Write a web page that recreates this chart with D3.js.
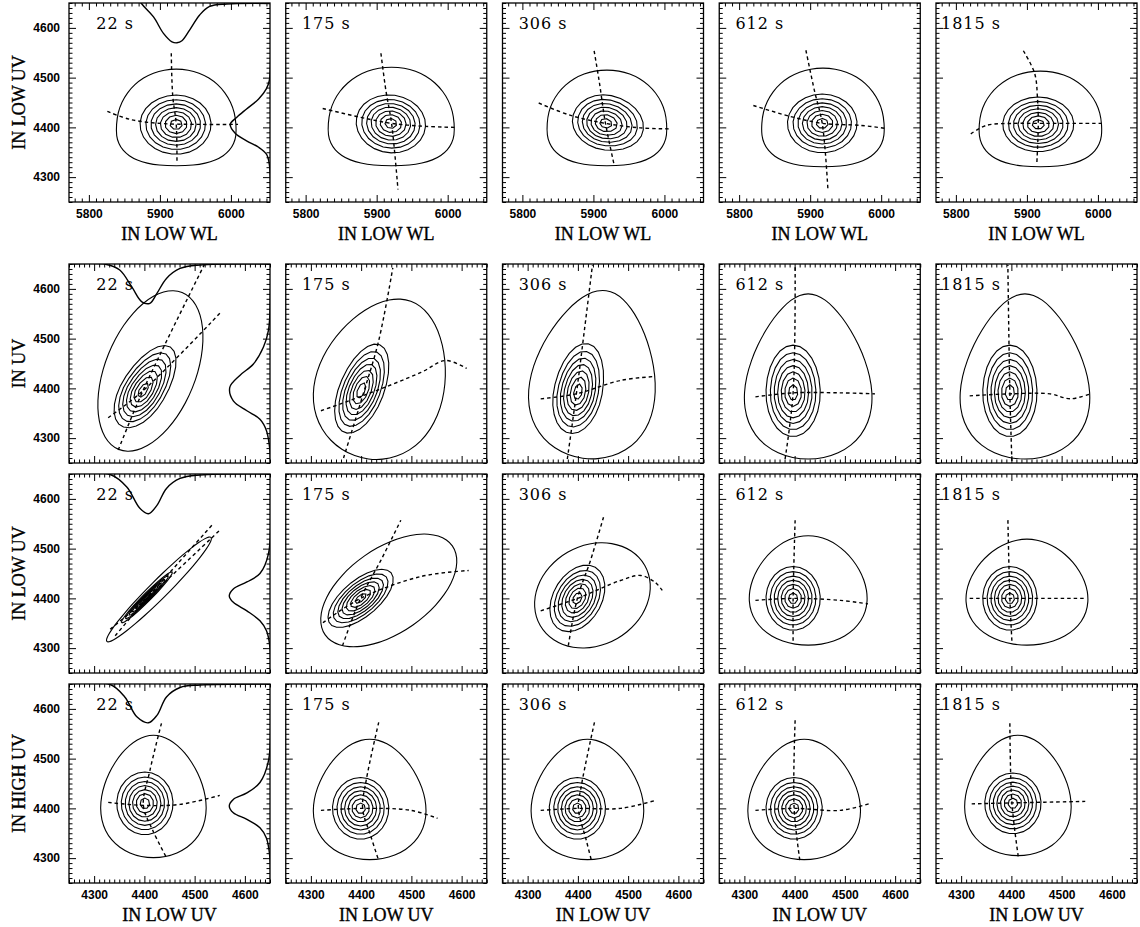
<!DOCTYPE html>
<html>
<head>
<meta charset="utf-8">
<script src="https://cdn.jsdelivr.net/npm/d3@7"></script>
<style>
  body { margin: 0; background: #fff; }
  svg { display: block; }
  .tick text { font-family: "Liberation Sans", Arial, sans-serif; font-weight: bold; font-size: 12px; fill: #000; }
  .tick line { stroke: #000; stroke-width: 1; }
  .title { font-family: "Liberation Serif", "Times New Roman", serif; font-size: 18px; fill: #000; stroke: #000; stroke-width: 0.35; }
  .tlabel { font-family: "DejaVu Serif", serif; font-size: 16px; letter-spacing: 1px; fill: #000; }
</style>
</head>
<body>
<div id="viz"></div>
<script>
// ---- data ----
const times = ["22 s", "175 s", "306 s", "612 s", "1815 s"];
const yTitles = ["IN LOW UV", "IN UV", "IN LOW UV", "IN HIGH UV"];
const xTitles = ["IN LOW WL", null, null, "IN LOW UV"];
const xDomains = [[5772, 6055], [4250, 4650], [4250, 4650], [4250, 4650]];
const yDomain = [4250, 4650];
const xTickVals = [[5800, 5900, 6000], [4300, 4400, 4500, 4600], [4300, 4400, 4500, 4600], [4300, 4400, 4500, 4600]];
const yTickVals = [4300, 4400, 4500, 4600];
const levelFractions = [1, 0.84, 0.70, 0.57, 0.44, 0.31, 0.17];

// inner contour family: [cx, cy, left, right, top, bottom, rot]
const innerCore = [
  [[5923, 4406, 51, 49, 59, 60, 0], [5920, 4408, 49, 49, 57, 59, -8], [5917, 4408, 47, 54, 57, 53, -12], [5917, 4408, 49, 49, 59, 59, 0], [5916, 4406, 50, 50, 55, 55, 0]],
  [[4397, 4395, 44, 44, 104, 83, -32], [4400, 4395, 44, 44, 100, 90, -22], [4400, 4392, 48, 48, 100, 84, -12], [4397, 4391, 54, 54, 96, 88, 0], [4397, 4391, 54, 54, 96, 88, 0]],
  [[4405, 4402, 8, 8, 72, 72, -45], [4399, 4400, 36, 36, 80, 80, -50], [4399, 4400, 48, 48, 72, 72, -30], [4397, 4400, 54, 54, 64, 64, 0], [4397, 4400, 54, 54, 64, 64, 0]],
  [[4401, 4410, 56, 56, 63, 63, 0], [4399, 4400, 56, 56, 62, 62, 0], [4399, 4400, 56, 56, 62, 62, 0], [4399, 4400, 56, 56, 62, 62, 0], [4403, 4410, 56, 56, 61, 61, 0]]
];

// outer contour: [cx, cy, left, right, top, bottom, rot, taper, topPower, bottomPower]
const outerContour = [
  [[5923, 4406, 84, 84, 111, 83, 0, 0.05, 2.1, 2.5], [5921, 4408, 89, 88, 113, 85, 0, 0.05, 2.1, 2.5], [5919, 4408, 84, 84, 107, 85, 0, 0.05, 2.1, 2.5], [5918, 4408, 86, 86, 111, 87, 0, 0.05, 2.1, 2.5], [5919, 4406, 86, 86, 107, 85, 0, 0.05, 2.1, 2.5]],
  [[4412, 4435, 90, 90, 170, 170, -22, 0], [4443, 4420, 126, 126, 165, 165, -20, 0.15], [4433, 4428, 122, 122, 170, 170, -8, 0.25], [4427, 4424, 122, 122, 166, 166, 0, 0.3], [4427, 4424, 124, 124, 166, 166, 0, 0.3]],
  [[4429, 4418, 18, 18, 148, 148, -45, 0], [4455, 4416, 84, 84, 156, 156, -55, 0], [4429, 4406, 120, 120, 100, 100, 30, 0], [4427, 4416, 116, 116, 110, 110, 0, 0.15], [4431, 4414, 120, 120, 105, 108, 0, 0.15]],
  [[4418, 4424, 103, 103, 123, 123, 0, 0.2], [4417, 4418, 110, 110, 121, 121, 0, 0.2], [4419, 4418, 110, 110, 121, 121, 0, 0.2], [4419, 4418, 110, 110, 121, 121, 0, 0.2], [4413, 4426, 104, 104, 121, 121, 0, 0.2]]
];

// dashed ridge lines (near-vertical A, near-horizontal B)
const ridgeA = [
  [[[5916, 4549], [5918, 4464], [5923, 4406], [5924, 4327]], [[5906, 4549], [5913, 4474], [5921, 4408], [5930, 4275]], [[5901, 4554], [5908, 4494], [5917, 4408], [5929, 4326]], [[5894, 4555], [5906, 4474], [5917, 4408], [5925, 4275]], [[5895, 4554], [5911, 4508], [5915, 4454], [5916, 4406], [5914, 4329]]],
  [[[4348, 4276], [4397, 4395], [4519, 4648]], [[4365, 4260], [4403, 4385], [4435, 4496], [4463, 4642]], [[4379, 4258], [4397, 4389], [4413, 4517], [4429, 4648]], [[4381, 4258], [4397, 4391], [4401, 4648]], [[4401, 4254], [4397, 4391], [4393, 4648]]],
  [[[4342, 4325], [4407, 4402], [4537, 4550]], [[4363, 4305], [4399, 4400], [4439, 4476], [4479, 4557]], [[4381, 4305], [4399, 4400], [4425, 4476], [4451, 4563]], [[4397, 4315], [4397, 4400], [4401, 4557]], [[4401, 4315], [4397, 4400], [4393, 4561]]],
  [[[4434, 4571], [4411, 4476], [4398, 4406], [4417, 4355], [4444, 4301]], [[4435, 4573], [4410, 4456], [4403, 4400], [4419, 4345], [4435, 4295]], [[4433, 4573], [4407, 4446], [4401, 4400], [4417, 4335], [4427, 4295]], [[4401, 4577], [4399, 4400], [4411, 4291]], [[4397, 4571], [4401, 4412], [4414, 4301]]]
];
const ridgeB = [
  [[[5826, 4432], [5858, 4416], [5900, 4408], [5956, 4406], [6010, 4406]], [[5824, 4438], [5878, 4420], [5921, 4408], [5969, 4402], [6011, 4400]], [[5823, 4449], [5868, 4424], [5917, 4408], [5966, 4399], [6006, 4397]], [[5820, 4444], [5872, 4422], [5917, 4408], [5971, 4404], [6006, 4398]], [[5821, 4387], [5843, 4404], [5881, 4408], [5916, 4408], [6005, 4408]]],
  [[[4328, 4341], [4397, 4395], [4554, 4555]], [[4320, 4355], [4403, 4385], [4519, 4432], [4568, 4456], [4610, 4440]], [[4326, 4379], [4397, 4389], [4485, 4416], [4554, 4424]], [[4322, 4383], [4397, 4391], [4491, 4391], [4560, 4389]], [[4317, 4385], [4397, 4389], [4477, 4389], [4517, 4379], [4557, 4389]]],
  [[[4332, 4338], [4407, 4402], [4550, 4537]], [[4324, 4351], [4399, 4400], [4519, 4444], [4614, 4456]], [[4326, 4375], [4399, 4400], [4485, 4436], [4525, 4446], [4554, 4432], [4568, 4416]], [[4322, 4396], [4397, 4400], [4491, 4396], [4546, 4389]], [[4317, 4400], [4546, 4400]]],
  [[[4328, 4412], [4398, 4406], [4471, 4408], [4550, 4426]], [[4320, 4396], [4403, 4400], [4499, 4396], [4552, 4380]], [[4326, 4396], [4399, 4400], [4485, 4400], [4554, 4416]], [[4322, 4396], [4399, 4400], [4491, 4396], [4550, 4410]], [[4321, 4409], [4401, 4411], [4547, 4414]]]
];

// marginal distributions drawn in the first column
const topMargin = [
  [[5860, 4680], [5874, 4649], [5891, 4622], [5905, 4589], [5917, 4572], [5924, 4570], [5931, 4574], [5942, 4596], [5956, 4626], [5970, 4643], [5994, 4648], [6060, 4649]],
  [[4250, 4650], [4325, 4649], [4351, 4638], [4375, 4604], [4395, 4574], [4411, 4571], [4425, 4591], [4444, 4621], [4471, 4641], [4511, 4648], [4660, 4650]],
  [[4250, 4650], [4332, 4649], [4365, 4624], [4391, 4581], [4408, 4570], [4425, 4587], [4444, 4621], [4471, 4641], [4511, 4648], [4660, 4650]],
  [[4250, 4650], [4332, 4649], [4361, 4624], [4385, 4584], [4408, 4572], [4425, 4587], [4444, 4624], [4471, 4643], [4511, 4648], [4660, 4650]]
];
const rightMargin = [
  [[6056, 4600], [6054, 4494], [6050, 4478], [6039, 4457], [6022, 4437], [6008, 4420], [5999, 4406], [6006, 4388], [6022, 4373], [6039, 4360], [6050, 4346], [6054, 4326], [6056, 4250]],
  [[4651, 4600], [4647, 4517], [4637, 4483], [4617, 4449], [4590, 4426], [4570, 4402], [4577, 4375], [4604, 4355], [4630, 4338], [4643, 4315], [4650, 4274], [4651, 4250]],
  [[4651, 4600], [4647, 4490], [4630, 4450], [4604, 4433], [4577, 4419], [4569, 4405], [4577, 4392], [4604, 4375], [4630, 4355], [4643, 4335], [4650, 4301], [4651, 4250]],
  [[4651, 4600], [4647, 4496], [4630, 4452], [4604, 4431], [4577, 4418], [4569, 4405], [4577, 4391], [4604, 4378], [4630, 4361], [4643, 4340], [4650, 4299], [4651, 4250]]
];

// ---- layout ----
const width = 1140, height = 927;
const pw = 201, ph = 199;
const colX = d3.range(5).map(i => 69 + i * 216.75);
const rowY = [3, 264, 474, 684];

const svg = d3.select("#viz").append("svg")
  .attr("width", width)
  .attr("height", height);

// points of a (possibly tilted, egg shaped) contour
function shapePoints(p, xs, ys, n, frac) {
  const [cx, cy, l, r, t, b, rot, taper = 0, pTop = 2, pBot = 2] = p;
  const kx = Math.abs(xs(cx + 1) - xs(cx));
  const ky = Math.abs(ys(cy + 1) - ys(cy));
  const a = rot * Math.PI / 180;
  const x0 = xs(cx), y0 = ys(cy);
  const pw2 = (v, e) => Math.sign(v) * Math.pow(Math.abs(v), 2 / e);
  return d3.range(n).map(i => {
    const th = i / n * 2 * Math.PI + Math.PI / 2;
    const s0 = Math.sin(th);
    const e = s0 > 0 ? pTop : pBot;
    const c = pw2(Math.cos(th), e), s = pw2(s0, e);
    const u = c * (c > 0 ? r : l) * (1 - taper * s) * frac;
    const v = s * (s > 0 ? t : b) * frac;
    const X = u * kx, Y = v * ky;
    return [x0 + X * Math.cos(a) - Y * Math.sin(a), y0 - (X * Math.sin(a) + Y * Math.cos(a))];
  });
}

const closedLinear = d3.line().curve(d3.curveLinearClosed);
const closedSmooth = d3.line().curve(d3.curveCardinalClosed.tension(0.3));

function minorTicks(domain, major) {
  return d3.range(Math.ceil(domain[0] / 10) * 10, domain[1] + 0.1, 10).filter(v => !major.includes(v));
}

for (let r = 0; r < 4; r++) {
  for (let c = 0; c < 5; c++) {
    const x0 = colX[c], y0 = rowY[r];
    const xs = d3.scaleLinear().domain(xDomains[r]).range([x0, x0 + pw]);
    const ys = d3.scaleLinear().domain(yDomain).range([y0 + ph, y0]);
    const line = d3.line().x(d => xs(d[0])).y(d => ys(d[1]));
    const g = svg.append("g");

    const clipId = `clip-${r}-${c}`;
    svg.append("clipPath").attr("id", clipId)
      .append("rect").attr("x", x0).attr("y", y0).attr("width", pw).attr("height", ph);
    const plot = g.append("g").attr("clip-path", `url(#${clipId})`);

    // marginal curves
    if (c === 0) {
      [topMargin[r], rightMargin[r]].forEach(m => {
        plot.append("path")
          .attr("d", line.curve(d3.curveCatmullRom)(m))
          .attr("fill", "none").attr("stroke", "#000").attr("stroke-width", 1.4);
      });
    }

    // outer contour
    plot.append("path")
      .attr("d", closedSmooth(shapePoints(outerContour[r][c], xs, ys, 32, 1)))
      .attr("fill", "none").attr("stroke", "#000").attr("stroke-width", 1.1);

    // inner nested contours
    levelFractions.forEach(f => {
      const n = Math.max(5, Math.round(22 * f + 3));
      plot.append("path")
        .attr("d", closedLinear(shapePoints(innerCore[r][c], xs, ys, n, f)))
        .attr("fill", "none").attr("stroke", "#000").attr("stroke-width", 1.1);
    });

    // dashed ridge lines
    [ridgeA[r][c], ridgeB[r][c]].forEach(pts => {
      plot.append("path")
        .attr("d", line.curve(d3.curveCatmullRom)(pts))
        .attr("fill", "none").attr("stroke", "#000")
        .attr("stroke-width", 1.4).attr("stroke-dasharray", "3.5,3");
    });

    // axes (ticks inward on all sides)
    const xMaj = xTickVals[r], xMin = minorTicks(xDomains[r], xMaj);
    const yMin = minorTicks(yDomain, yTickVals);
    const showX = xTitles[r] !== null;
    const axes = [
      [d3.axisBottom(xs).tickValues(xMaj).tickSize(-7).tickPadding(7).tickFormat(showX ? d3.format("d") : ""), `translate(0,${y0 + ph})`],
      [d3.axisBottom(xs).tickValues(xMin).tickSize(-3.5).tickFormat(""), `translate(0,${y0 + ph})`],
      [d3.axisTop(xs).tickValues(xMaj).tickSize(-7).tickFormat(""), `translate(0,${y0})`],
      [d3.axisTop(xs).tickValues(xMin).tickSize(-3.5).tickFormat(""), `translate(0,${y0})`],
      [d3.axisLeft(ys).tickValues(yTickVals).tickSize(-7).tickPadding(9).tickFormat(c === 0 ? d3.format("d") : ""), `translate(${x0},0)`],
      [d3.axisLeft(ys).tickValues(yMin).tickSize(-3.5).tickFormat(""), `translate(${x0},0)`],
      [d3.axisRight(ys).tickValues(yTickVals).tickSize(-7).tickFormat(""), `translate(${x0 + pw},0)`],
      [d3.axisRight(ys).tickValues(yMin).tickSize(-3.5).tickFormat(""), `translate(${x0 + pw},0)`]
    ];
    axes.forEach(([ax, tr]) => {
      const a = g.append("g").attr("transform", tr).call(ax);
      a.select(".domain").remove();
    });

    g.append("rect")
      .attr("x", x0).attr("y", y0).attr("width", pw).attr("height", ph)
      .attr("fill", "none").attr("stroke", "#000").attr("stroke-width", 1.3);

    g.append("text").attr("class", "tlabel")
      .attr("x", x0 + 65).attr("y", y0 + 26)
      .attr("text-anchor", "end")
      .text(times[c]);

    if (showX) {
      g.append("text").attr("class", "title")
        .attr("x", x0 + pw / 2).attr("y", y0 + ph + 37.5)
        .attr("text-anchor", "middle")
        .text(xTitles[r]);
    }
  }
  svg.append("text").attr("class", "title")
    .attr("transform", `translate(19,${rowY[r] + ph / 2}) rotate(-90)`)
    .attr("text-anchor", "middle")
    .attr("dominant-baseline", "central")
    .text(yTitles[r]);
}
</script>
</body>
</html>
